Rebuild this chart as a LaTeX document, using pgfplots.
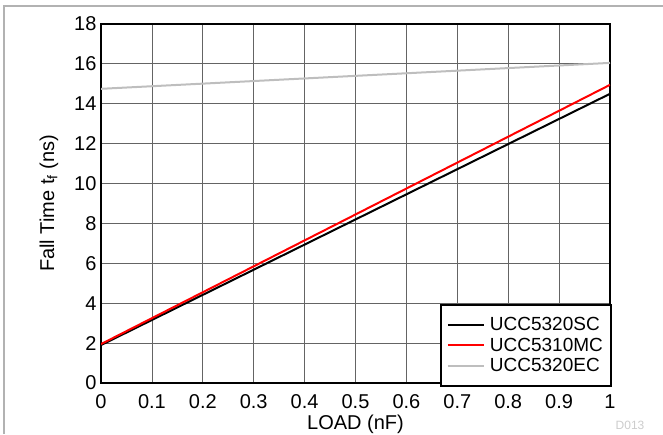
\documentclass[border=0pt]{standalone}
\usepackage{fontspec}
\setmainfont{Liberation Sans}
\usepackage{pgfplots}
\pgfplotsset{compat=1.18}
\definecolor{eccol}{RGB}{190,190,190}
\definecolor{gridcol}{RGB}{100,100,100}
\begin{document}
\begin{tikzpicture}[x=1pt,y=1pt]
\useasboundingbox (0,0) rectangle (663,434);
\draw[gray!60, line width=1.2pt] (4,0) -- (4,428) -- (663,428);
\node[text=gray!40, font=\fontsize{12}{14}\selectfont] at (630,9) {D013};
\begin{axis}[at={(101pt,51pt)}, anchor=south west, scale only axis,
  width=509pt, height=359pt,
  xmin=0, xmax=1, ymin=0, ymax=18,
  xtick={0,0.1,0.2,0.3,0.4,0.5,0.6,0.7,0.8,0.9,1},
  xticklabels={0,0.1,0.2,0.3,0.4,0.5,0.6,0.7,0.8,0.9,1},
  ytick={0,2,4,6,8,10,12,14,16,18},
  grid=major, grid style={gridcol, line width=0.8pt},
  axis line style={line width=2.4pt},
  major tick length=0pt,
  font=\fontsize{20}{22}\selectfont,
  xticklabel style={yshift=-8pt},
  yticklabel style={xshift=-1pt},
  /pgf/number format/assume math mode=true,
  xlabel={LOAD (nF)}, ylabel={Fall Time t\textsubscript{f} (ns)},
  xlabel style={at={(axis description cs:0.5,0)}, anchor=center, yshift=-41pt},
  ylabel style={at={(axis description cs:0,0.5)}, anchor=center, yshift=52pt},
  legend style={at={(1,0)}, anchor=south east, xshift=2pt, yshift=-4pt,
    draw=black, line width=2.2pt, inner xsep=6pt, inner ysep=11pt,
    font=\fontsize{19}{21}\selectfont, row sep=1.5pt,
    /tikz/every odd column/.append style={column sep=3pt}},
  legend cell align=left,
  legend image code/.code={\draw[#1, line width=2pt] (0pt,0pt) -- (36pt,0pt);},
]
\addplot[black, line width=2pt] coordinates {(0,1.9) (1,14.5)};
\addlegendentry{UCC5320SC}
\addplot[red, line width=2pt] coordinates {(0,1.95) (1,14.95)};
\addlegendentry{UCC5310MC}
\addplot[eccol, line width=2pt] coordinates {(0,14.75) (1,16.05)};
\addlegendentry{UCC5320EC}
\end{axis}
\end{tikzpicture}
\end{document}
